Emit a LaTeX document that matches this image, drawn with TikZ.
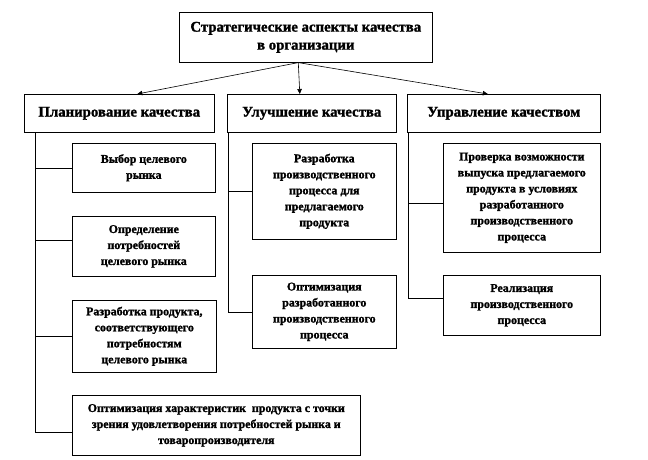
\documentclass[tikz,border=0pt]{standalone}
\usepackage{fontspec}
\setmainfont{Liberation Serif}[BoldFeatures={FakeBold=1.4}]
\usetikzlibrary{arrows.meta}
\tikzset{
  box/.style={draw=black, line width=0.6pt, fill=white, rectangle, anchor=north west,
    inner xsep=0pt, inner ysep=0pt, align=center, font=\bfseries\fontsize{11.9}{16}\selectfont},
  bigbox/.style={box, font=\bfseries\fontsize{14.8}{18}\selectfont},
  conn/.style={draw=black, line width=0.6pt},
  arr/.style={conn, -{Triangle[length=5pt,width=4.5pt]}}
}
\begin{document}
\begin{tikzpicture}[x=1pt,y=-1pt]
\useasboundingbox (0,0) rectangle (648,459);
% top
\node[bigbox, minimum width=253pt, minimum height=50pt] (top) at (179,12) {Стратегические аспекты качества\\в организации};
% level 2
\node[bigbox, minimum width=190pt, minimum height=38pt] (plan) at (24,94) {Планирование качества};
\node[bigbox, minimum width=169pt, minimum height=38pt] (impr) at (227,94) {Улучшение качества};
\node[bigbox, minimum width=193pt, minimum height=38pt] (mgmt) at (407,94) {Управление качеством};
% left column
\node[box, minimum width=143pt, minimum height=49pt] (b1) at (72,143) {Выбор целевого\\рынка};
\node[box, minimum width=143pt, minimum height=60pt] (b2) at (72,216) {Определение\\потребностей\\целевого рынка};
\node[box, minimum width=144pt, minimum height=72pt] (b3) at (72,300) {Разработка продукта,\\соответствующего\\потребностям\\целевого рынка};
\node[box, minimum width=288pt, minimum height=60pt] (b4) at (72,395) {Оптимизация характеристик \ продукта с точки\\зрения удовлетворения потребностей рынка и\\товаропроизводителя};
% middle column
\node[box, minimum width=144pt, minimum height=96pt] (m1) at (252,143) {Разработка\\производственного\\процесса для\\предлагаемого\\продукта};
\node[box, minimum width=144pt, minimum height=73pt] (m2) at (252,275) {Оптимизация\\разработанного\\производственного\\процесса};
% right column
\node[box, minimum width=157pt, minimum height=109pt] (r1) at (443,143) {Проверка возможности\\выпуска предлагаемого\\продукта в условиях\\разработанного\\производственного\\процесса};
\node[box, minimum width=157pt, minimum height=60pt] (r2) at (443,275) {Реализация\\производственного\\процесса};
% arrows
\coordinate (o) at ([xshift=-7.5pt]top.south);
\draw[arr] (o) -- ([xshift=18pt]plan.north);
\draw[arr] (o) -- ([xshift=-12pt]impr.north);
\draw[arr] (o) -- ([xshift=-16pt]mgmt.north);
% left trunk
\coordinate (pl) at ([xshift=11pt]plan.south west);
\draw[conn] (pl) |- ([yshift=-7pt]b4.west);
\draw[conn] (pl) |- (b1.west);
\draw[conn] (pl) |- ([yshift=6pt]b2.west);
\draw[conn] (pl) |- (b3.west);
% middle trunk
\coordinate (im) at ([xshift=1pt]impr.south west);
\draw[conn] (im) |- (m2.west);
\draw[conn] (im) |- (m1.west);
% right trunk
\coordinate (mg) at ([xshift=1pt]mgmt.south west);
\draw[conn] (mg) |- ([yshift=7pt]r2.west);
\draw[conn] (mg) |- ([yshift=-5pt]r1.west);
\end{tikzpicture}
\end{document}
